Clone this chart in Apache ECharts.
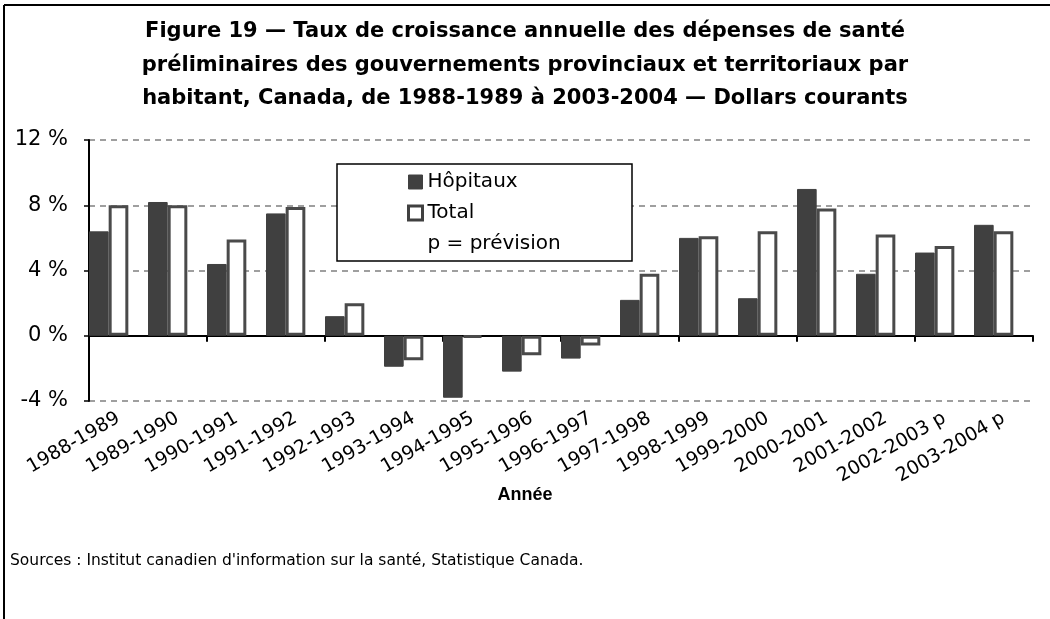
<!DOCTYPE html>
<html>
<head>
    <meta charset="utf-8">
    <title>Figure 19</title>
    <script src="https://cdn.jsdelivr.net/npm/echarts@6/dist/echarts.min.js"></script>
    <style>
        html, body { margin: 0; padding: 0; background: #fff; }
    </style>
</head>
<body>
<div id="main" style="width:1050px;height:619px;"></div>

<script type="text/javascript">
    // données
    var annees = ['1988-1989', '1989-1990', '1990-1991', '1991-1992', '1992-1993', '1993-1994',
        '1994-1995', '1995-1996', '1996-1997', '1997-1998', '1998-1999', '1999-2000',
        '2000-2001', '2001-2002', '2002-2003 p', '2003-2004 p'];
    var hopitaux = [6.4, 8.2, 4.4, 7.5, 1.2, -1.9, -3.8, -2.2, -1.4, 2.2, 6.0, 2.3, 9.0, 3.8, 5.1, 6.8];
    var total = [8.0, 8.0, 5.9, 7.9, 2.0, -1.5, -0.1, -1.2, -0.6, 3.8, 6.1, 6.4, 7.8, 6.2, 5.5, 6.4];
    var yTicks = { min: -4, max: 12, interval: 4 };

    var chart = echarts.init(document.getElementById('main'));

    var font = '"DejaVu Sans", Verdana, sans-serif';
    var titre = 'Figure 19 \u2014 Taux de croissance annuelle des dépenses de santé\n' +
        'préliminaires des gouvernements provinciaux et territoriaux par\n' +
        'habitant, Canada, de 1988-1989 à 2003-2004 \u2014 Dollars courants';

    var option = {
        animation: false,
        legend: {
            orient: 'vertical',
            left: 402,
            top: 167,
            itemWidth: 14,
            itemHeight: 14,
            itemGap: 11,
            textStyle: { fontFamily: font, fontSize: 20, color: '#000' },
            data: [
                { name: 'Hôpitaux', icon: 'rect', itemStyle: { color: '#404040', borderColor: '#404040', borderWidth: 1 } },
                { name: 'Total', icon: 'rect', itemStyle: { color: '#fff', borderColor: '#404040', borderWidth: 3 } },
                { name: 'p = prévision', icon: 'rect', itemStyle: { color: 'rgba(0,0,0,0)', borderWidth: 0 } }
            ],
            z: 5
        },
        grid: {
            left: 89,
            right: 17,
            top: 140,
            bottom: 218
        },
        xAxis: [
            {
                type: 'category',
                data: annees,
                axisLine: { onZero: true, lineStyle: { color: '#000', width: 2 } },
                axisTick: { show: true, length: 6, lineStyle: { color: '#000', width: 2 } },
                axisLabel: { show: false },
                splitLine: { show: false }
            },
            {
                type: 'category',
                data: annees,
                position: 'bottom',
                axisLine: { show: false, onZero: false },
                axisTick: { show: false },
                axisLabel: {
                    rotate: 30,
                    margin: 16,
                    fontFamily: font,
                    fontSize: 19,
                    color: '#000',
                    interval: 0
                }
            }
        ],
        yAxis: {
            type: 'value',
            min: yTicks.min,
            max: yTicks.max,
            interval: yTicks.interval,
            axisLine: { show: true, lineStyle: { color: '#000', width: 2 } },
            axisTick: { show: true, length: 5, lineStyle: { color: '#000', width: 1.5 } },
            axisLabel: {
                formatter: '{value} %',
                margin: 21,
                fontFamily: font,
                fontSize: 21,
                color: '#000'
            },
            splitLine: { lineStyle: { color: '#808080', width: 1.5, type: [6, 5] } }
        },
        series: [
            {
                name: 'Hôpitaux',
                type: 'bar',
                xAxisIndex: 0,
                barGap: 0,
                barCategoryGap: 0,
                itemStyle: { color: '#404040', borderColor: '#404040', borderWidth: 1 },
                data: hopitaux
            },
            {
                name: 'Total',
                type: 'bar',
                xAxisIndex: 0,
                barGap: 0,
                barCategoryGap: 0,
                itemStyle: { color: '#fff', borderColor: '#4a4a4a', borderWidth: 3 },
                data: total
            },
            {
                // série vide : laisse l'espace à droite de chaque groupe
                name: 'p = prévision',
                type: 'bar',
                xAxisIndex: 0,
                barGap: 0,
                barCategoryGap: 0,
                data: []
            }
        ],
        graphic: [
            {
                type: 'text',
                x: 525,
                y: 15,
                style: {
                    text: titre,
                    textAlign: 'center',
                    font: 'bold 21px ' + font,
                    lineHeight: 33.5,
                    fill: '#000'
                }
            },
            {
                type: 'rect',
                z: 3,
                shape: { x: 337, y: 164, width: 295, height: 97 },
                style: { fill: '#fff', stroke: '#000', lineWidth: 1.5 }
            },
            {
                type: 'line',
                shape: { x1: 4, y1: 5, x2: 1050, y2: 5 },
                style: { stroke: '#000', lineWidth: 2 }
            },
            {
                type: 'line',
                shape: { x1: 4, y1: 5, x2: 4, y2: 619 },
                style: { stroke: '#000', lineWidth: 2 }
            },
            {
                type: 'text',
                x: 525,
                y: 495,
                style: {
                    text: 'Année',
                    textAlign: 'center',
                    textVerticalAlign: 'middle',
                    font: 'bold 18px "Liberation Sans", Arial, sans-serif',
                    fill: '#000'
                }
            },
            {
                type: 'text',
                left: 10,
                top: 553,
                style: {
                    text: 'Sources : Institut canadien d\'information sur la santé, Statistique Canada.',
                    font: '15.5px ' + font,
                    fill: '#000'
                }
            }
        ]
    };

    chart.setOption(option);
</script>
</body>
</html>
